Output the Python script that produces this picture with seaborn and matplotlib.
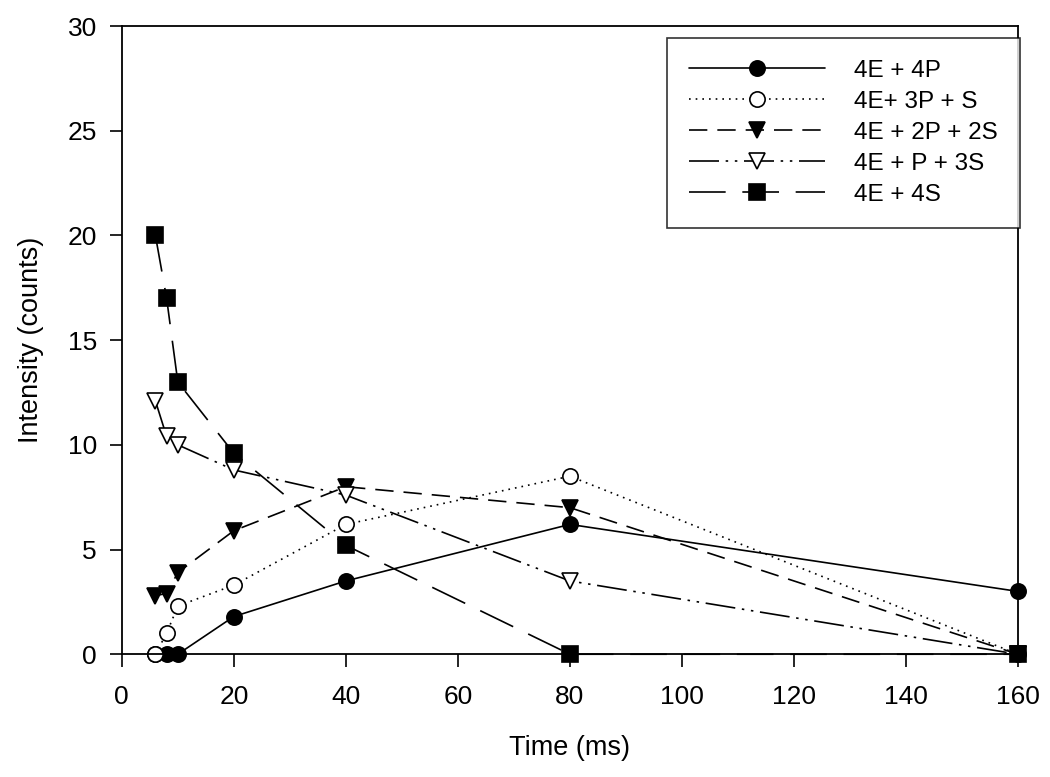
import pandas as pd
import seaborn as sns
import matplotlib.pyplot as plt
import numpy as np

# veriler
time = [6, 8, 10, 20, 40, 80, 160]
e4_p4 = [0, 0, 0, 1.8, 3.5, 6.2, 3.0]
e4_p3_s = [0, 1.0, 2.3, 3.3, 6.2, 8.5, 0]
e4_p2_s2 = [2.8, 2.9, 3.9, 5.9, 8.0, 7.0, 0]
e4_p_s3 = [12.1, 10.4, 10.0, 8.8, 7.6, 3.5, 0]
e4_s4 = [20.0, 17.0, 13.0, 9.6, 5.2, 0, 0]

labels = ['4E + 4P', '4E+ 3P + S', '4E + 2P + 2S', '4E + P + 3S', '4E + 4S']
series = [e4_p4, e4_p3_s, e4_p2_s2, e4_p_s3, e4_s4]
markers = ['o', 'o', 'v', 'v', 's']
faces = ['black', 'white', 'black', 'white', 'black']
dashes = [None, (1, 3), (11, 6), (18, 4, 1.5, 4, 1.5, 4), (22, 10)]

sns.set_style('ticks')
plt.rcParams['font.family'] = ['Liberation Sans', 'DejaVu Sans']
plt.rcParams['text.color'] = 'black'
plt.rcParams['axes.labelcolor'] = 'black'

fig = plt.figure(figsize=(10.5, 7.77), dpi=100)
ax = fig.add_axes([0.116, 0.158, 0.8535, 0.8085])

for lab, vals, m, fc, d in zip(labels, series, markers, faces, dashes):
    df = pd.DataFrame({'time': time, 'val': vals})
    sns.lineplot(data=df, x='time', y='val', ax=ax, marker=m, markersize=11,
                 markerfacecolor=fc, markeredgecolor='black', markeredgewidth=1.2,
                 color='black', linewidth=1.2, label=lab, clip_on=False)
    if d is not None:
        ax.lines[-1].set_dashes(d)

ax.set_xlim(0, 160)
ax.set_ylim(0, 30)
ax.set_xticks(np.arange(0, 161, 20))
ax.set_yticks(np.arange(0, 31, 5))
ax.set_xlabel('Time (ms)', fontsize=19.5)
ax.set_ylabel('Intensity (counts)', fontsize=19.5)
ax.xaxis.set_label_coords(0.5, -0.128)
ax.yaxis.set_label_coords(-0.087, 0.5)
ax.tick_params(labelsize=19, direction='out', length=9, width=1.2, colors='black')
ax.tick_params(axis='x', pad=13)
ax.tick_params(axis='y', pad=9)
for s in ax.spines.values():
    s.set_visible(True)
    s.set_linewidth(1.3)
    s.set_color('black')

leg = ax.legend(loc='upper right', fontsize=17.5, handlelength=5.6, handletextpad=1.2,
                frameon=True, fancybox=False, edgecolor='black', borderpad=0.9,
                labelspacing=0.37, borderaxespad=0, bbox_to_anchor=(1.002, 0.981))
leg.get_frame().set_linewidth(1.2)

plt.savefig('out.png', dpi=100)
